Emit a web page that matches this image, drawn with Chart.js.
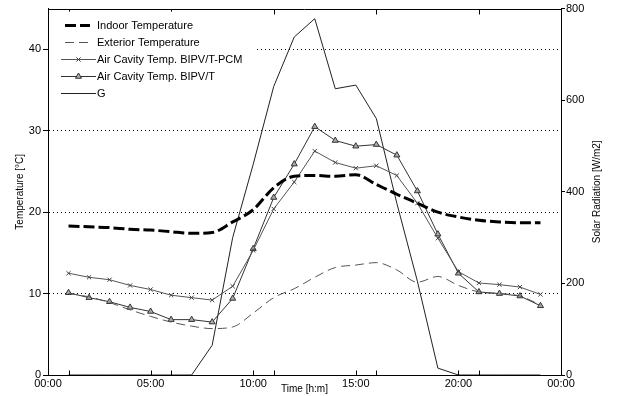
<!DOCTYPE html>
<html><head><meta charset="utf-8">
<script src="https://cdn.jsdelivr.net/npm/chart.js@4/dist/chart.umd.min.js"></script>
<style>html,body{margin:0;padding:0;background:#fff}#wrap{width:617px;height:396px}</style>
</head><body><div id="wrap"><canvas id="c" width="617" height="396"></canvas></div>
<script>
// ---- data (hour of day for each sample) ----
const hours = [1,2,3,4,5,6,7,8,9,10,11,12,13,14,15,16,17,18,19,20,21,22,23,24];
const indoorTemp   = [18.3,18.2,18.1,17.9,17.8,17.6,17.4,17.5,18.8,20.3,23.0,24.4,24.5,24.4,24.6,23.4,22.2,21.1,20.0,19.4,19.0,18.8,18.7,18.7];
const exteriorTemp = [10.0,9.6,8.9,8.0,7.2,6.5,6.0,5.7,5.9,7.6,9.5,10.6,12.0,13.2,13.5,13.8,12.9,11.4,12.1,11.0,10.2,10.0,9.7,8.6];
const cavityPCM    = [12.5,12.0,11.7,11.0,10.5,9.8,9.5,9.2,10.9,15.3,20.4,23.7,27.5,26.1,25.4,25.7,24.5,21.1,16.8,12.7,11.3,11.1,10.8,9.9];
const cavityBIPVT  = [10.1,9.5,9.0,8.3,7.8,6.8,6.8,6.5,9.4,15.5,21.8,25.9,30.5,28.8,28.1,28.3,27.0,22.6,17.3,12.5,10.2,10.0,9.7,8.5];
const solarG       = [0,0,0,0,0,0,0,65,300,460,630,738,778,625,633,560,375,205,15,0,0,0,0,0];

const seriesLabels = ['Indoor Temperature','Exterior Temperature','Air Cavity Temp. BIPV/T-PCM','Air Cavity Temp. BIPV/T','G'];
const xTickHours  = [0,5,10,15,20,25];
const xTickLabels = ['00:00','05:00','10:00','15:00','20:00','00:00'];
const xMinorHours = [1,6,11,16,21];
const tempTicks   = [0,10,20,30,40];
const radTicks    = [0,200,400,600,800];
const xTitle = 'Time [h:m]';
const yTitle = 'Temperature [°C]';
const y2Title = 'Solar Radiation [W/m2]';

const pts = arr => hours.map((h,i)=>({x:h,y:arr[i]}));
const FONT = "'Liberation Sans', Arial, sans-serif";
Chart.defaults.font.family = FONT;
Chart.defaults.font.size = 11;
Chart.defaults.color = '#000';

const datasets = [
  {label:seriesLabels[0], data:pts(indoorTemp), yAxisID:'y', borderColor:'#000', borderWidth:3, borderDash:[11,4],
   pointRadius:0, cubicInterpolationMode:'monotone', fill:false},
  {label:seriesLabels[1], data:pts(exteriorTemp), yAxisID:'y', borderColor:'#555', borderWidth:1, borderDash:[9,5],
   pointRadius:0, cubicInterpolationMode:'monotone', fill:false},
  {label:seriesLabels[2], data:pts(cavityPCM), yAxisID:'y', borderColor:'#555', borderWidth:1,
   pointStyle:'crossRot', pointRadius:3, pointBorderColor:'#444', pointBorderWidth:1, pointBackgroundColor:'#444', fill:false},
  {label:seriesLabels[3], data:pts(cavityBIPVT), yAxisID:'y', borderColor:'#333', borderWidth:1,
   pointStyle:'triangle', pointRadius:3.5, pointBorderColor:'#333', pointBorderWidth:1, pointBackgroundColor:'#aaa', fill:false},
  {label:seriesLabels[4], data:pts(solarG), yAxisID:'y2', borderColor:'#222', borderWidth:1, pointRadius:0, fill:false}
];

const framePlugin = {
  id:'frame',
  afterDraw(chart){
    const {ctx, chartArea:a, scales} = chart;
    const xs = scales.x;
    ctx.save();
    ctx.strokeStyle = '#000'; ctx.lineWidth = 1;
    // top border
    ctx.beginPath(); ctx.moveTo(a.left, Math.round(a.top)+0.5); ctx.lineTo(a.right, Math.round(a.top)+0.5); ctx.stroke();
    // inward x ticks
    const bot = Math.round(a.bottom)+0.5, top = Math.round(a.top)+0.5;
    xTickHours.forEach(h=>{
      const px = Math.round(xs.getPixelForValue(h))+0.5;
      if (px <= a.left+1 || px >= a.right-1) return;
      ctx.beginPath(); ctx.moveTo(px, bot); ctx.lineTo(px, bot-5); ctx.stroke();
    });
    xMinorHours.forEach(h=>{
      const px = Math.round(xs.getPixelForValue(h))+0.5;
      ctx.beginPath(); ctx.moveTo(px, bot); ctx.lineTo(px, bot-5); ctx.stroke();
      ctx.beginPath(); ctx.moveTo(px, top); ctx.lineTo(px, top+5); ctx.stroke();
    });
    // axis titles
    ctx.fillStyle = '#000';
    ctx.font = '10px ' + FONT;
    ctx.textAlign = 'center'; ctx.textBaseline = 'middle';
    ctx.fillText(xTitle, (a.left+a.right)/2, 389);
    const cy = (a.top+a.bottom)/2;
    ctx.save(); ctx.translate(20, cy); ctx.rotate(-Math.PI/2); ctx.fillText(yTitle, 0, 0); ctx.restore();
    ctx.save(); ctx.translate(597, cy); ctx.rotate(-Math.PI/2); ctx.fillText(y2Title, 0, 0); ctx.restore();

    // legend
    ctx.fillStyle = '#fff';
    ctx.fillRect(a.left+1, a.top+3, 206, 92);
    const rowY0 = a.top + 16, step = 17.2;
    chart.data.datasets.forEach((ds, i)=>{
      const y = Math.round(rowY0 + i*step) + 0.5;
      ctx.save();
      ctx.strokeStyle = ds.borderColor; ctx.lineWidth = ds.borderWidth;
      ctx.setLineDash(ds.borderDash || []);
      ctx.beginPath();
      if (ds.borderDash) { ctx.moveTo(a.left+17, y); ctx.lineTo(a.left+42, y); }
      else { ctx.moveTo(a.left+13, y); ctx.lineTo(a.left+48, y); }
      ctx.stroke();
      ctx.setLineDash([]);
      if (ds.pointRadius) {
        ctx.strokeStyle = ds.pointBorderColor; ctx.fillStyle = ds.pointBackgroundColor; ctx.lineWidth = ds.pointBorderWidth;
        Chart.helpers.drawPoint(ctx, {pointStyle: ds.pointStyle, radius: ds.pointRadius, rotation:0, borderWidth: ds.pointBorderWidth}, a.left+30.5, y);
      }
      ctx.restore();
      ctx.fillStyle = '#000'; ctx.font = '11px ' + FONT; ctx.textAlign = 'left'; ctx.textBaseline = 'middle';
      ctx.fillText(ds.label, a.left+49, y);
    });
    ctx.restore();
  }
};

new Chart(document.getElementById('c'), {
  type:'line',
  data:{datasets},
  plugins:[framePlugin],
  options:{
    responsive:false, animation:false, devicePixelRatio:1,
    layout:{padding:{top:8,left:0,right:0,bottom:0}},
    plugins:{legend:{display:false}, tooltip:{enabled:false}},
    scales:{
      x:{type:'linear', min:0, max:25, position:'bottom',
         afterBuildTicks:s=>{ s.ticks = xTickHours.map(v=>({value:v})); },
         afterFit:s=>{ s.height = 21; },
         ticks:{autoSkip:false, maxRotation:0, minRotation:0, padding:2, callback:(v,i)=>xTickLabels[i], font:{size:11}},
         grid:{display:false, drawTicks:false},
         border:{display:true, color:'#000', width:1}},
      y:{type:'linear', min:0, max:45, position:'left',
         afterBuildTicks:s=>{ s.ticks = tempTicks.map(v=>({value:v})); },
         afterFit:s=>{ s.width = 48; },
         ticks:{padding:2, font:{size:11}},
         grid:{color:c=>(c.tick && c.tick.value===0)?'rgba(0,0,0,0)':'#000', lineWidth:1, drawTicks:true, tickLength:5, tickColor:'#000', tickWidth:1, tickBorderDash:[]},
         border:{display:true, color:'#000', width:1, dash:[1,3]}},
      y2:{type:'linear', min:0, max:800, position:'right',
         afterBuildTicks:s=>{ s.ticks = radTicks.map(v=>({value:v})); },
         afterFit:s=>{ s.width = 56; },
         ticks:{padding:1, font:{size:11}},
         grid:{drawOnChartArea:false, drawTicks:true, tickLength:4, tickColor:'#000', tickWidth:1, tickBorderDash:[]},
         border:{display:true, color:'#000', width:1}}
    }
  }
});
</script>
</body></html>
